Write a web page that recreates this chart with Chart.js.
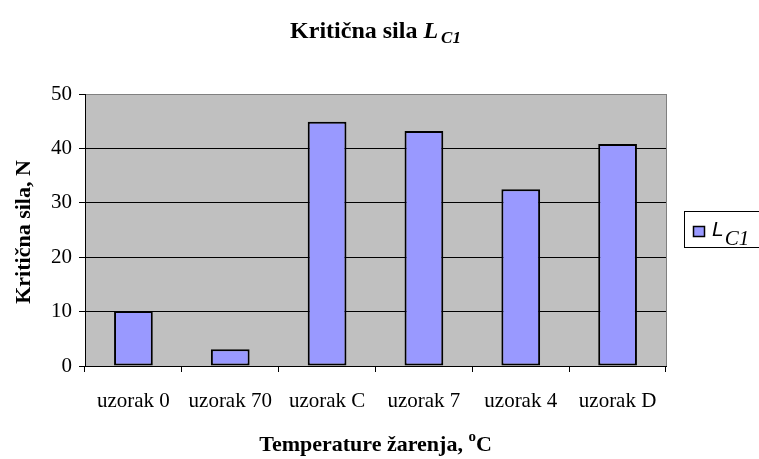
<!DOCTYPE html>
<html>
<head>
<meta charset="utf-8">
<script src="https://cdn.jsdelivr.net/npm/chart.js@4"></script>
<style>
  html, body { margin: 0; padding: 0; background: #fff; }
  #wrap { width: 759px; height: 459px; }
</style>
</head>
<body>
<div id="wrap"><canvas id="chart" width="759" height="459"></canvas></div>
<script>
// Kritična sila L_C1 po uzorku
const categories = ["uzorak 0", "uzorak 70", "uzorak C", "uzorak 7", "uzorak 4", "uzorak D"];
const lc1Values = [10.1, 3.1, 44.9, 43.2, 32.5, 40.8];
const yTicks = [0, 10, 20, 30, 40, 50];

const serif = "'Liberation Serif', 'Times New Roman', serif";
const sans = "'Liberation Sans', Arial, sans-serif";

// draws text pieces one after another, each with its own font and baseline shift
function drawRuns(ctx, runs, x, y, align) {
  let total = 0;
  runs.forEach((r) => {
    ctx.font = r.font;
    r.w = ctx.measureText(r.text).width;
    total += r.w + (r.gap || 0);
  });
  let cx = align === "center" ? x - total / 2 : x;
  runs.forEach((r) => {
    ctx.font = r.font;
    ctx.fillText(r.text, cx, y + (r.dy || 0));
    cx += r.w + (r.gap || 0);
  });
}

const decorations = {
  id: "decorations",
  beforeDraw(chart) {
    const { ctx, chartArea: a } = chart;
    ctx.save();
    ctx.fillStyle = "#C0C0C0";
    ctx.fillRect(a.left, a.top, a.right - a.left, a.bottom - a.top);
    ctx.restore();
  },
  afterDraw(chart) {
    const { ctx, chartArea: a } = chart;
    ctx.save();
    // plot frame, right side
    ctx.strokeStyle = "#808080";
    ctx.lineWidth = 1;
    ctx.beginPath();
    ctx.moveTo(a.right + 0.5, a.top);
    ctx.lineTo(a.right + 0.5, a.bottom);
    ctx.stroke();

    ctx.fillStyle = "#000";
    ctx.textBaseline = "alphabetic";
    const cx = (a.left + a.right) / 2;

    // title
    drawRuns(ctx, [
      { text: "Kritična sila ", font: "bold 24px " + serif },
      { text: "L", font: "italic bold 24px " + serif, gap: 3 },
      { text: "C1", font: "italic bold 17px " + serif, dy: 5 },
    ], cx, 38, "center");

    // x axis title
    drawRuns(ctx, [
      { text: "Temperature žarenja, ", font: "bold 22px " + serif },
      { text: "o", font: "bold 15px " + serif, dy: -10 },
      { text: "C", font: "bold 22px " + serif },
    ], cx, 451, "center");

    // y axis title
    ctx.save();
    ctx.translate(30, (a.top + a.bottom) / 2 + 2);
    ctx.rotate(-Math.PI / 2);
    ctx.textAlign = "center";
    ctx.font = "bold 22px " + serif;
    ctx.fillText("Kritična sila, N", 0, 0);
    ctx.restore();

    // legend
    ctx.strokeStyle = "#000";
    ctx.lineWidth = 1;
    ctx.strokeRect(684.5, 211.5, 80, 36);
    const ds = chart.data.datasets[0];
    ctx.fillStyle = ds.backgroundColor;
    ctx.fillRect(693, 226, 12, 11);
    ctx.lineWidth = 1.5;
    ctx.strokeRect(693.5, 226.5, 11, 10);
    ctx.fillStyle = "#000";
    ctx.textAlign = "left";
    drawRuns(ctx, [
      { text: "L", font: "italic 21px " + sans, gap: 1 },
      { text: "C1", font: "italic 21px " + serif, dy: 9 },
    ], 712, 236, "left");
    ctx.restore();
  },
};

new Chart(document.getElementById("chart"), {
  type: "bar",
  data: {
    labels: categories,
    datasets: [
      {
        label: "L C1",
        data: lc1Values,
        backgroundColor: "#9999FF",
        borderColor: "#000",
        borderWidth: 2,
        borderSkipped: false,
        barPercentage: 0.4,
        categoryPercentage: 1,
      },
    ],
  },
  options: {
    responsive: false,
    animation: false,
    layout: { padding: { left: 0, top: 94, right: 93, bottom: 0 } },
    plugins: {
      legend: { display: false },
      title: { display: false },
      tooltip: { enabled: false },
    },
    scales: {
      x: {
        afterFit: (scale) => { scale.height = 93; },
        grid: {
          offset: true,
          drawOnChartArea: false,
          drawTicks: true,
          tickLength: 6,
          color: "#000",
        },
        border: { color: "#000", width: 1 },
        ticks: {
          color: "#000",
          padding: 17,
          maxRotation: 0,
          font: { family: serif, size: 21 },
        },
      },
      y: {
        min: 0,
        max: 50,
        afterFit: (scale) => { scale.width = 85; },
        afterBuildTicks: (scale) => {
          scale.ticks = yTicks.map((v) => ({ value: v }));
        },
        grid: {
          color: (c) => (c.tick && c.tick.value === 50 ? "#808080" : "#000"),
          tickColor: "#000",
          tickLength: 6,
        },
        border: { color: "#000", width: 1 },
        ticks: {
          color: "#000",
          padding: 7,
          font: { family: serif, size: 21 },
        },
      },
    },
  },
  plugins: [decorations],
});
</script>
</body>
</html>
